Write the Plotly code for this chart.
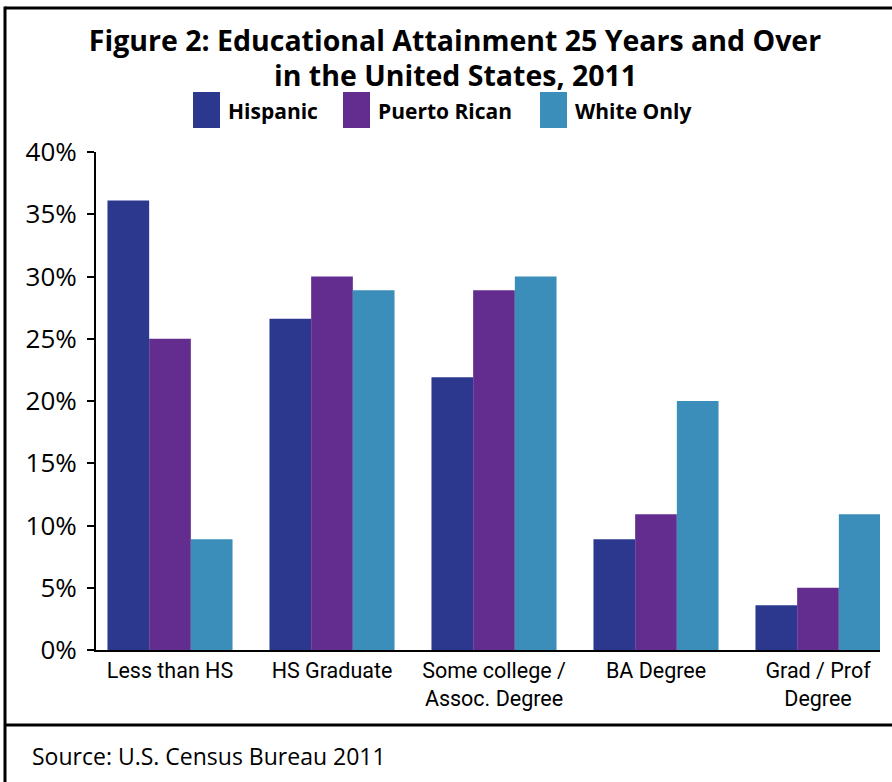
import plotly.graph_objects as go

categories = ["Less than HS", "HS Graduate", "Some college /<br>Assoc. Degree", "BA Degree", "Grad / Prof<br>Degree"]
series_names = ["Hispanic", "Puerto Rican", "White Only"]
hispanic = [36.1, 26.6, 21.9, 8.9, 3.6]
puerto_rican = [25.0, 30.0, 28.9, 10.9, 5.0]
white_only = [8.9, 28.9, 30.0, 20.0, 10.9]
colors = ["#2C388E", "#632D8F", "#3B8EB9"]
y_ticks = [0, 5, 10, 15, 20, 25, 30, 35, 40]

W, H = 892, 782
L, R, T, B = 96, 880, 152, 650  # plot area in pixels


def px(x):
    return (x - L) / (R - L)


def py(y):
    return (B - y) / (B - T)


fig = go.Figure()
for name, vals, col in zip(series_names, [hispanic, puerto_rican, white_only], colors):
    fig.add_trace(go.Bar(x=list(range(len(categories))), y=vals, name=name,
                         marker=dict(color=col, line=dict(width=0)), showlegend=False))

shapes = []
annotations = []
# frame
frame = dict(color="black", width=3)
shapes.append(dict(type="line", xref="paper", yref="paper", x0=px(5), x1=px(900), y0=py(8), y1=py(8), line=frame))
shapes.append(dict(type="line", xref="paper", yref="paper", x0=px(5), x1=px(5), y0=py(6.5), y1=py(790), line=frame))
shapes.append(dict(type="line", xref="paper", yref="paper", x0=px(5), x1=px(900), y0=py(725), y1=py(725), line=frame))

# custom legend
leg_x = [193, 343, 540]
for name, col, x0 in zip(series_names, colors, leg_x):
    shapes.append(dict(type="rect", xref="paper", yref="paper", x0=px(x0), x1=px(x0 + 27),
                       y0=py(128), y1=py(92), fillcolor=col, line=dict(width=0)))
    annotations.append(dict(text="<b>%s</b>" % name, xref="paper", yref="paper", x=px(x0 + 33), y=py(111),
                            xanchor="left", yanchor="middle", showarrow=False,
                            font=dict(family="Open Sans", size=21, color="black")))

# second title line
annotations.append(dict(text="<b>in the United States, 2011</b>", xref="paper", yref="paper",
                        x=px(455), y=py(75), xanchor="center", yanchor="middle", showarrow=False,
                        font=dict(family="Open Sans", size=28.5, color="black")))

annotations.append(dict(text="Source: U.S. Census Bureau 2011", xref="paper", yref="paper",
                        x=px(30), y=py(756), xanchor="left", yanchor="middle", showarrow=False,
                        font=dict(family="Open Sans", size=23, color="black")))

fig.update_layout(
    width=W, height=H,
    margin=dict(l=L, r=W - R, t=T, b=H - B, pad=0),
    paper_bgcolor="white", plot_bgcolor="white",
    barmode="group", bargap=0.228, bargroupgap=0,
    title=dict(text="<b>Figure 2: Educational Attainment 25 Years and Over</b>",
               x=455 / W, xref="container", xanchor="center",
               y=1 - 41 / H, yref="container", yanchor="middle",
               font=dict(family="Open Sans", size=28.5, color="black")),
    shapes=shapes, annotations=annotations,
    xaxis=dict(tickmode="array", tickvals=list(range(len(categories))), ticktext=categories,
               range=[-(170 - L) / 162, 4 + (R - 818) / 162],
               showline=True, linecolor="black", linewidth=2, layer="below traces",
               showgrid=False, zeroline=False, ticks="",
               tickfont=dict(family="Roboto", size=21.5, color="black")),
    yaxis=dict(range=[0, 40], tickmode="array", tickvals=y_ticks, ticktext=["%d%%" % v for v in y_ticks],
               showline=True, linecolor="black", linewidth=2, ticks="outside", ticklen=7, tickwidth=2,
               tickcolor="black", showgrid=False, zeroline=False, ticklabelstandoff=5,
               tickfont=dict(family="Open Sans", size=26, color="black")),
)

fig.write_html("out.html", config={"displayModeBar": False},
               post_script="document.body.style.margin='0px';")
